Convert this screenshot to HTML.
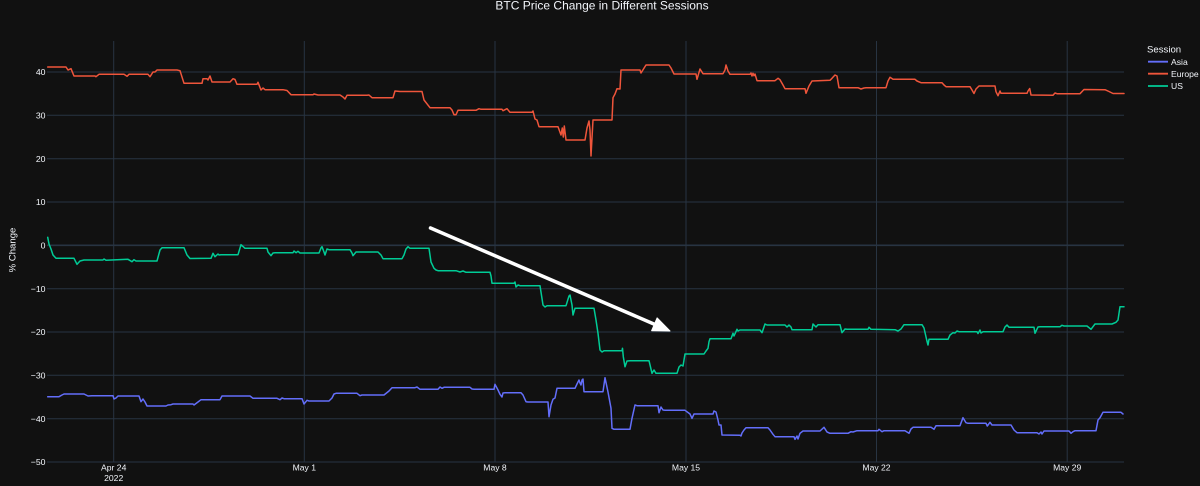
<!DOCTYPE html>
<html><head><meta charset="utf-8"><style>
html,body{margin:0;padding:0;background:#111111;}
svg{display:block;}
text{font-family:"Liberation Sans",Arial,sans-serif;fill:#f2f5fa;}
</style></head><body>
<svg width="1200" height="486" viewBox="0 0 1200 486" xmlns="http://www.w3.org/2000/svg">
<rect width="1200" height="486" fill="#111111"/>
<!-- grid -->
<g stroke="#283442" stroke-width="1" fill="none">
<line x1="113.7" y1="41" x2="113.7" y2="462"/>
<line x1="304.3" y1="41" x2="304.3" y2="462"/>
<line x1="495" y1="41" x2="495" y2="462"/>
<line x1="686" y1="41" x2="686" y2="462"/>
<line x1="876.5" y1="41" x2="876.5" y2="462"/>
<line x1="1067.2" y1="41" x2="1067.2" y2="462"/>
<line x1="47" y1="72" x2="1124" y2="72"/>
<line x1="47" y1="115.3" x2="1124" y2="115.3"/>
<line x1="47" y1="158.7" x2="1124" y2="158.7"/>
<line x1="47" y1="202" x2="1124" y2="202"/>
<line x1="47" y1="288.7" x2="1124" y2="288.7"/>
<line x1="47" y1="332" x2="1124" y2="332"/>
<line x1="47" y1="375.3" x2="1124" y2="375.3"/>
<line x1="47" y1="418.7" x2="1124" y2="418.7"/>
<line x1="47" y1="462" x2="1124" y2="462"/>
<line x1="47" y1="245.3" x2="1124" y2="245.3" stroke-width="1.6"/>
</g>
<!-- title -->
<text x="602" y="9.5" font-size="12" text-anchor="middle">BTC Price Change in Different Sessions</text>
<!-- y ticks -->
<g font-size="8.7" text-anchor="end">
<text x="45.5" y="75.2">40</text>
<text x="45.5" y="118.5">30</text>
<text x="45.5" y="161.9">20</text>
<text x="45.5" y="205.2">10</text>
<text x="45.5" y="248.5">0</text>
<text x="45.5" y="291.9">−10</text>
<text x="45.5" y="335.2">−20</text>
<text x="45.5" y="378.5">−30</text>
<text x="45.5" y="421.9">−40</text>
<text x="45.5" y="465.2">−50</text>
</g>
<text transform="translate(15.5,250) rotate(-90)" font-size="9.6" text-anchor="middle">% Change</text>
<!-- x ticks -->
<g font-size="8.6" text-anchor="middle">
<text x="113.7" y="470.3">Apr 24</text>
<text x="113.7" y="480.8">2022</text>
<text x="304.3" y="470.3">May 1</text>
<text x="495" y="470.3">May 8</text>
<text x="686" y="470.3">May 15</text>
<text x="876.5" y="470.3">May 22</text>
<text x="1067.2" y="470.3">May 29</text>
</g>
<!-- series -->
<g fill="none" stroke-width="1.5" stroke-linejoin="round" stroke-linecap="round">
<polyline stroke="#EF553B" points="47.7,67 66,67 68,70 71,68.7 74,76 95,76 96,76.7 99,74.3 124,74.3 127,76.3 129,74.3 148,74.3 150,76.7 153,72 155,72 157,70 177,70 180,70.7 184,83.3 202,83.3 203,78.7 207,78.7 208,80 210,76 212,82 230,82 233,78.7 235,79.5 237,84.3 257,84.3 258,82.3 261,90 263,88 265,89.7 283,89.7 287,90.5 291,94.7 313,94.7 314,94 318,95 340,95 343,97 345,99 347,95.3 367,95.3 369,95 372,97.7 393,97.7 395,91 400,91.5 422,91.5 424,100 430,107.7 450,107.7 452,110 454,114.7 456,114.7 458,110.3 476,110.3 479,108.7 481,109.3 502,109.3 503,110.7 507,108.7 510,112.3 532,112.3 533,111 535,119 537,120 539,126.7 558,126.7 561,135 562.3,128 563.3,137 564.3,126 566,140 585,140 587,128 589,121 590,130 591,156 592,138 593,120 612,120 613,97.7 615,94 617,88.7 620,89 621,70 640,70 641,73 646,65 669,65 671,68 674,74 696,74 697,79.3 700,69 703,73.7 723,73.7 725,70 726,65 728,71 730,74.3 750,74.3 751,73 752,76 753,73.3 754,75.7 755,74 757,80.7 775,80.7 778,78.3 780,79.7 783,85 785,88.7 805,88.7 806,93.3 809,86 812,81 830,80.3 832,78.3 835,75 837,76 839,87.7 858,87.7 861,89 864,88 866,87.7 886,87.7 888,81 890,77.3 893,79.3 915,79.3 917,81 921,82.7 942,82.7 944,85 946,86.7 970,86.7 972,90 974,93.5 976,89 979,86 995,86 996,91.7 998,95.7 1000,91 1001,93.3 1027,93.3 1028,91 1029.7,88.5 1031,95 1053,95.3 1055,93 1057,93.7 1080,93.7 1084,89.5 1105,89.7 1109,91.5 1113,93.5 1124,93.5"/>
<polyline stroke="#00cc96" points="47.7,237.3 49,244 51,249 53,255 56,258.3 74,258.3 77,264.3 80,261 84,260 103,260 104,259 106,260.3 128,259.3 132,261.7 134,259.7 136,261 157,261 160,250 162,247.7 184,247.7 187,255 190,258.5 211,258.3 213,253.3 215,256.7 218,254 219,255 221,254.7 238,254.7 241,244.7 245,248.3 267,248.3 268,252 271,255.7 273,253 275,252.7 293,252.7 294,251 296,252.7 298,251.3 300,253 319,253 321,248 322,246.7 324,252 325,255 327,249 329,249.7 350,249.7 352,253 353,255.7 356,252 378,252 381,255 383,258.7 402,258.7 404,255 406,249 408,246.7 410,248.3 429,248.3 431,262 434,268.3 436,270 438,270.7 456,270.7 460,272 463,271 466,272.3 490,272.3 491,276 492,283.3 514,283.3 515,282 516,287 518,285 520,285.7 540,285.7 543,305 545,307 547,305.7 566,305.7 569,296 570,295 572,305 573,315 575,308.3 594,308.3 596,320 598,333.3 600,350 602,352 604,350.7 622,350.7 622.5,348.3 623.3,356.7 625,366.7 627,361 630,360.7 649,360.7 652,373.3 654,370 656,373.3 677,373.3 679,367 681,365 683,366 685,354 704,354 706,351 708,348.3 709,341.7 710,338.7 731,338.7 733,333.3 734,336 737,329.3 738,331 740,330 760,330 762,332.7 765,324 767,325 785,325 787,327 789,325 791,327 792,329.7 812,329.7 813,324 816,327 818,324.7 840,324.7 842,332.7 845,329 847,329.3 868,329.3 869,327.3 871,329.3 895,329.7 898,331 901,329 904,324.7 922,324.7 924,328 926.7,340 928,345 929,339.3 948,339.3 950,335 953,332.7 955,333 957,331 959,331.7 977,331.7 978,333.5 980,330 981,333 983,331.7 1003,331.7 1005,327 1007,325 1009,327.3 1034,327.3 1035,333.3 1038,327 1040,326.7 1060,326.7 1062,325.3 1064,326 1087,326 1091,329.3 1095,324 1112,324 1116,322.3 1118,320 1120,306.7 1124,306.7"/>
<polyline stroke="#636efa" points="47.7,396.7 59,396.7 62,395 64,394 84,394 88,396 92,395.7 113,395.7 114,399 116,398 118,396 139,396 141,401.7 143,399 145,402 147,406 166,406 168,405 171,404.7 173,404 193,404 194,405 198,402 201,399.7 220,399.7 222,396 250,396 253,398.3 277,398.3 280,399.7 282,398 284,398.7 302,398.7 304,404 307,400.3 309,401 329,401 332,398 334,394 336,393.3 357,393.3 360,395.7 362,395 384,395 389,391 392,387.7 393,387.7 415,387.7 417,387 420,389.3 438,389.3 440,387 442,388.3 444,387.3 470,387.3 472,389 474,389.3 494,389.3 495,384.3 498,390 500,394.3 502,397 503,393 505,392.7 521,392.7 523,395 526,401.7 528,402 548,402 549,416.7 551,405 553,399.3 555,398 557,388.3 575,388.3 577,384 579,380 580,383 581,385 582,380 583,379 584,391.7 603,391.7 605,377.7 608,392 611,408.3 612,428.3 614,429.3 630,429.3 632,418.3 635,405 637,405.7 658,405.7 659,412.7 661,407 663,410 665,410.3 685,410.3 690,414 692,418.3 694,414 713,414 714,411 716,412 718,420 719,425 721,425 722,435 740,435.3 741,436 742,433 744,430 746,427.7 768,427.7 770,430 773,434.3 775,436.7 794,436.7 795,439.3 797,436 798,439 800,433.3 803,431 820,431 824,427.3 827,432 830,433.3 848,433.3 851,431.7 853,432 857,430.7 878,430.7 879,429.3 882,431.7 884,430.7 905,430.7 909,433.3 911,429 913,427.3 931,427.3 934,429.3 936,425.7 960,425.7 963,417.7 966,422.7 968,423.3 986,423.3 987.3,426 990,422.3 992,425 1011,425 1014,430 1017,432.7 1037,432.7 1039,434 1041,432 1042,434 1044,431 1069,431 1071,433.3 1073,431.7 1075,430.7 1096,430.7 1098,420 1100,417.7 1103,412.3 1121,412.3 1123,414"/>
</g>
<!-- arrow -->
<line x1="430.5" y1="228" x2="655" y2="324.5" stroke="#ffffff" stroke-width="3.5" stroke-linecap="round"/>
<polygon points="670,331 657.1,317.9 651.6,330.7" fill="#ffffff" stroke="#ffffff" stroke-width="1" stroke-linejoin="round"/>
<!-- legend -->
<text x="1147" y="52.5" font-size="9.6">Session</text>
<g stroke-width="1.8">
<line x1="1148" y1="61.7" x2="1168" y2="61.7" stroke="#636efa"/>
<line x1="1148" y1="73.7" x2="1168" y2="73.7" stroke="#EF553B"/>
<line x1="1148" y1="86" x2="1168" y2="86" stroke="#00cc96"/>
</g>
<g font-size="8.6">
<text x="1171" y="64.8">Asia</text>
<text x="1171" y="76.8">Europe</text>
<text x="1171" y="89.1">US</text>
</g>
</svg>
</body></html>
